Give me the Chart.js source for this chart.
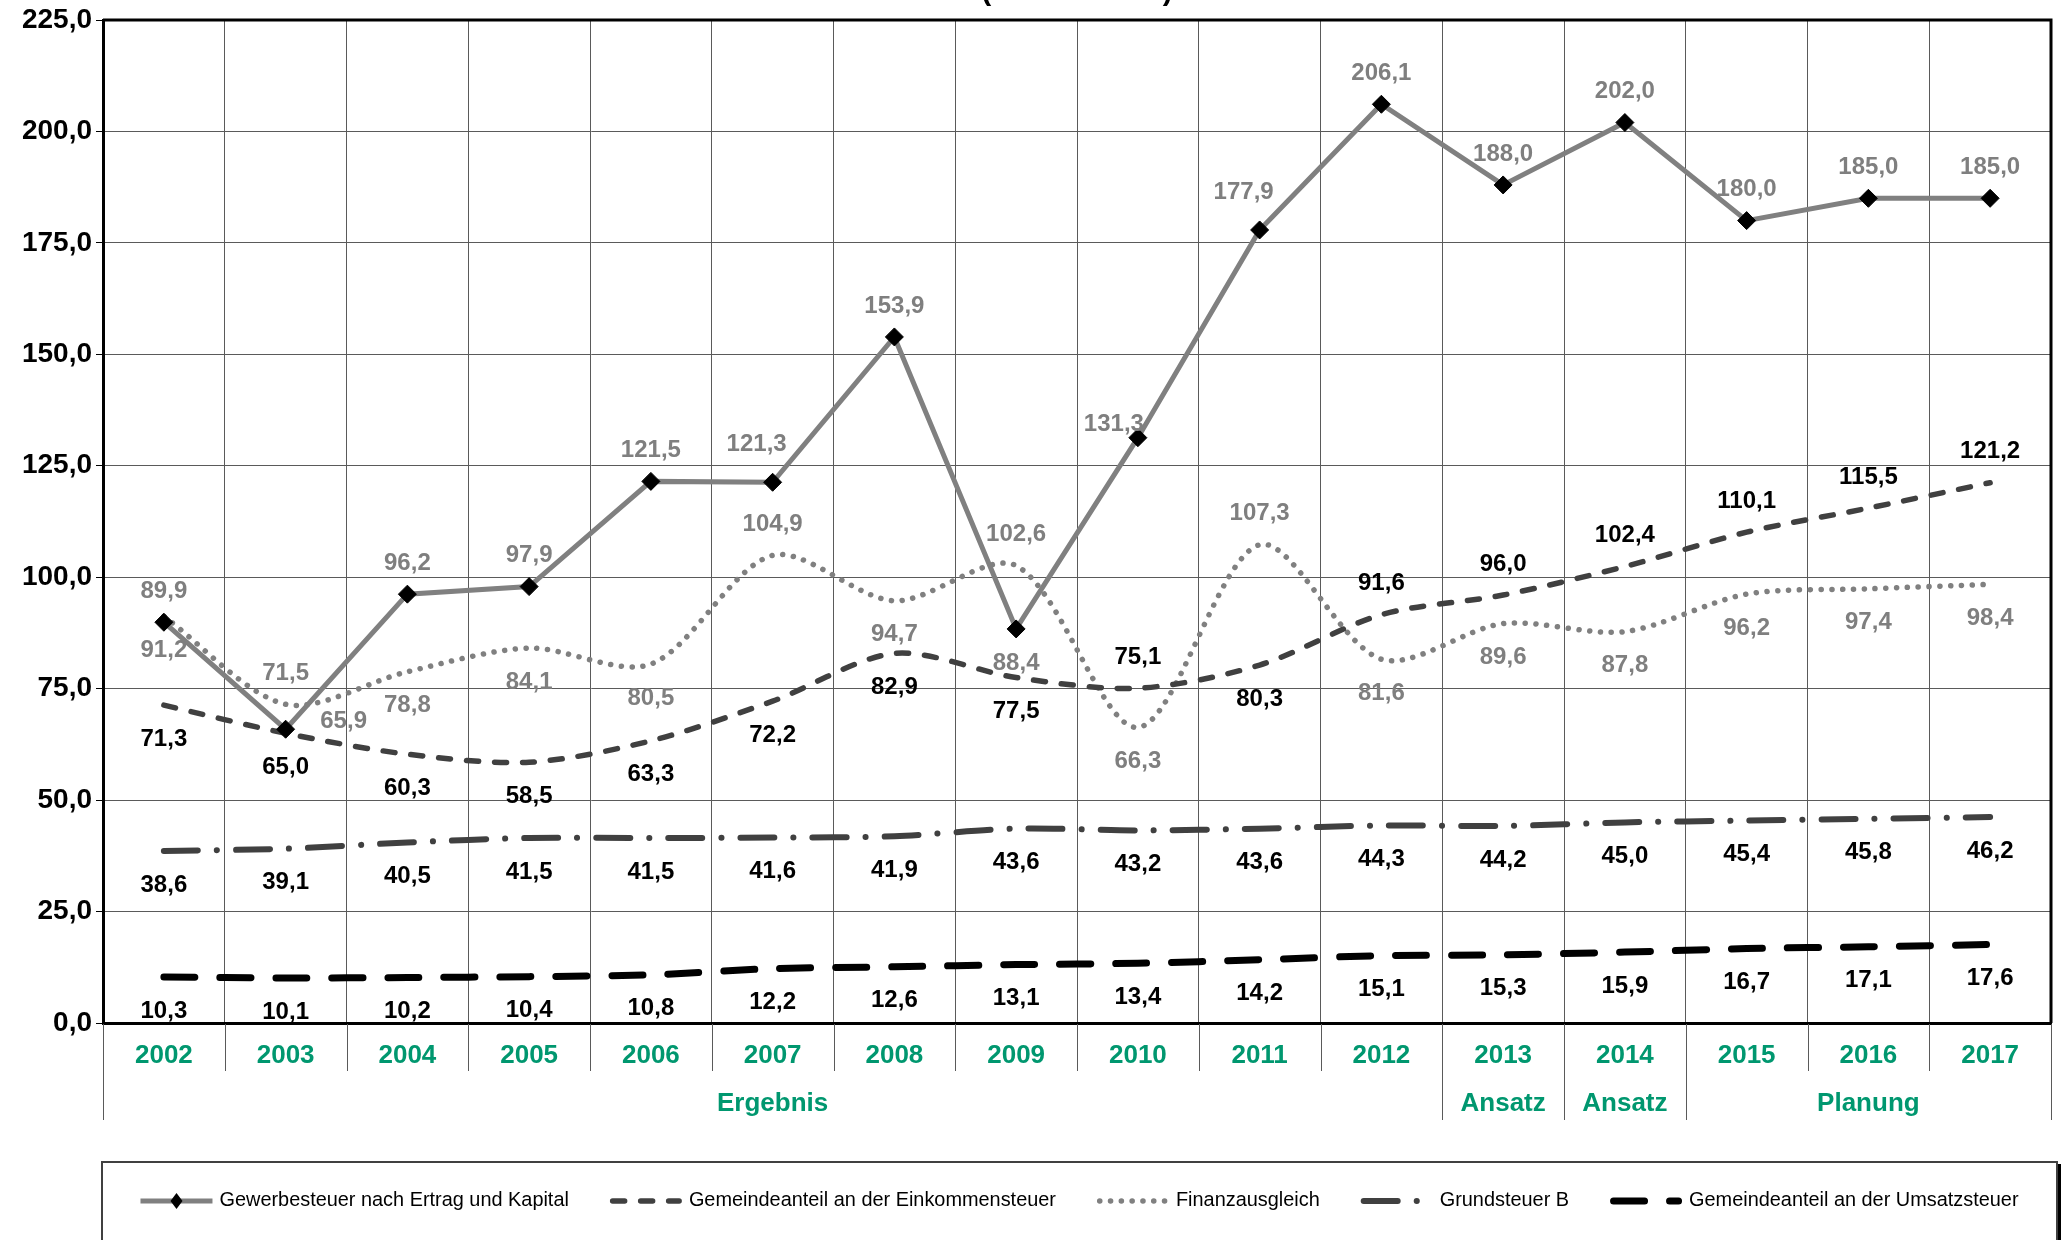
<!DOCTYPE html>
<html lang="de">
<head>
<meta charset="utf-8">
<title>Steuereinnahmen 2002 - 2017</title>
<script src="https://cdn.jsdelivr.net/npm/chart.js@4.4.1/dist/chart.umd.min.js"></script>
<style>
  html, body { margin: 0; padding: 0; background: #fff; }
  #chart { display: block; }
</style>
</head>
<body>
<canvas id="chart" width="2061" height="1240"></canvas>
<script>
// Kategorien (Jahre) und die zweite Ebene der Achse
const jahre = ['2002', '2003', '2004', '2005', '2006', '2007', '2008', '2009',
               '2010', '2011', '2012', '2013', '2014', '2015', '2016', '2017'];
const abschnitte = ['Ergebnis', 'Ansatz', 'Ansatz', 'Planung'];
const abschnittJahre = [11, 1, 1, 3];

// Werte in Mio. Euro
const gewerbesteuer   = [89.9, 65.9, 96.2, 97.9, 121.5, 121.3, 153.9, 88.4, 131.3, 177.9, 206.1, 188.0, 202.0, 180.0, 185.0, 185.0];
const einkommensteuer = [71.3, 65.0, 60.3, 58.5, 63.3, 72.2, 82.9, 77.5, 75.1, 80.3, 91.6, 96.0, 102.4, 110.1, 115.5, 121.2];
const finanzausgleich = [91.2, 71.5, 78.8, 84.1, 80.5, 104.9, 94.7, 102.6, 66.3, 107.3, 81.6, 89.6, 87.8, 96.2, 97.4, 98.4];
const grundsteuerB    = [38.6, 39.1, 40.5, 41.5, 41.5, 41.6, 41.9, 43.6, 43.2, 43.6, 44.3, 44.2, 45.0, 45.4, 45.8, 46.2];
const umsatzsteuer    = [10.3, 10.1, 10.2, 10.4, 10.8, 12.2, 12.6, 13.1, 13.4, 14.2, 15.1, 15.3, 15.9, 16.7, 17.1, 17.6];

// Y-Achse
const yMin = 0, yMax = 225, yStep = 25;

// Lage der Wertbeschriftung je Punkt:
// o = oberhalb, u = unterhalb, r = rechts, l = links, ol = oben links
const lageGewerbe   = ['o','r','o','o','o','ol','o','u','l','ol','o','o','o','o','o','o'];
const lageEinkommen = ['u','u','u','u','u','u','u','u','o','u','o','o','o','o','o','o'];
const lageFinanz    = ['u','o','u','u','u','o','u','o','u','o','u','u','u','u','u','u'];
const lageGrund     = jahre.map(() => 'u');
const lageUmsatz    = jahre.map(() => 'u');

// Versatz der Beschriftung zum Punkt in Pixeln
const versatz = {
  o:  [0, -31],
  u:  [0, 34],
  r:  [58, -8],
  l:  [-24, -13],
  ol: [-16, -38]
};

const FONT = '"Liberation Sans", Arial, sans-serif';
const GRUEN = '#00976f';
const fmt = v => Number(v).toFixed(1).replace('.', ',');

Chart.defaults.font.family = FONT;

// Wertbeschriftungen an den Punkten
const wertePlugin = {
  id: 'werte',
  afterDatasetsDraw(chart) {
    const ctx = chart.ctx;
    ctx.save();
    ctx.font = 'bold 24px ' + FONT;
    ctx.textBaseline = 'middle';
    ctx.textAlign = 'center';
    chart.data.datasets.forEach((ds, i) => {
      const meta = chart.getDatasetMeta(i);
      ctx.fillStyle = ds.labelColor;
      meta.data.forEach((pt, j) => {
        const [dx, dy] = versatz[ds.lage[j]];
        ctx.fillText(fmt(ds.data[j]), pt.x + dx, pt.y + dy);
      });
    });
    ctx.restore();
  }
};

// Rahmen, zweite Achsenebene, Überschrift und Legende
const rahmenPlugin = {
  id: 'rahmen',
  afterDraw(chart) {
    const ctx = chart.ctx;
    const area = chart.chartArea;
    const xs = chart.scales.x;
    ctx.save();

    // obere und rechte Kante der Zeichenfläche
    ctx.strokeStyle = '#000';
    ctx.lineWidth = 3;
    ctx.beginPath();
    ctx.moveTo(area.left, area.top);
    ctx.lineTo(area.right, area.top);
    ctx.lineTo(area.right, area.bottom);
    ctx.stroke();

    // Trennlinien unterhalb der Achse
    const w = xs.getPixelForValue(1) - xs.getPixelForValue(0);
    const x0 = xs.getPixelForValue(0) - w / 2;
    const grenzen = [0];
    abschnittJahre.reduce((s, n) => { grenzen.push(s + n); return s + n; }, 0);
    ctx.strokeStyle = '#5a5a5a';
    ctx.lineWidth = 1;
    for (let k = 0; k <= jahre.length; k++) {
      const x = Math.round(x0 + k * w) + 0.5;
      const tief = grenzen.includes(k) ? 97 : 48;
      ctx.beginPath();
      ctx.moveTo(x, area.bottom + 1);
      ctx.lineTo(x, area.bottom + tief);
      ctx.stroke();
    }

    // Abschnittsbeschriftung
    ctx.font = 'bold 26px ' + FONT;
    ctx.fillStyle = GRUEN;
    ctx.textAlign = 'center';
    ctx.textBaseline = 'middle';
    abschnitte.forEach((t, i) => {
      const mitte = x0 + (grenzen[i] + grenzen[i + 1]) / 2 * w;
      ctx.fillText(t, mitte, area.bottom + 81);
    });

    // Überschrift (am oberen Rand angeschnitten)
    ctx.font = 'bold 30px ' + FONT;
    ctx.fillStyle = '#000';
    ctx.textBaseline = 'alphabetic';
    ctx.fillText('(in Mio. Euro)', 1077, 0);

    // Legende
    const boxL = area.left - 1, boxR = 2057, boxT = 1162;
    ctx.fillStyle = '#000';
    ctx.fillRect(boxR, boxT + 2, 4, chart.height - boxT);
    ctx.fillStyle = '#fff';
    ctx.fillRect(boxL, boxT, boxR - boxL, chart.height - boxT);
    ctx.strokeStyle = '#404040';
    ctx.lineWidth = 2;
    ctx.strokeRect(boxL, boxT, boxR - boxL, chart.height - boxT + 10);

    ctx.font = '19.9px ' + FONT;
    const muster = 72, abstand = 7, luecke = 41;
    const items = chart.data.datasets.map(ds => ({ ds, w: muster + abstand + ctx.measureText(ds.label).width }));
    const gesamt = items.reduce((s, it) => s + it.w, 0) + luecke * (items.length - 1);
    let x = (boxL + boxR) / 2 - gesamt / 2;
    const y = 1201;
    items.forEach(({ ds, w: iw }) => {
      const lw = ds.borderWidth;
      const cap = ds.borderCapStyle === 'round' ? lw / 2 : 0;
      ctx.strokeStyle = ds.borderColor;
      ctx.lineWidth = lw;
      ctx.lineCap = ds.borderCapStyle || 'butt';
      ctx.setLineDash(ds.borderDash || []);
      ctx.beginPath();
      ctx.moveTo(x + cap, y);
      ctx.lineTo(x + muster - cap, y);
      ctx.stroke();
      ctx.setLineDash([]);
      if (ds.pointRadius > 0) {
        const cx = x + muster / 2, r = 8;
        ctx.fillStyle = ds.pointBackgroundColor;
        ctx.beginPath();
        ctx.moveTo(cx, y - r);
        ctx.lineTo(cx + r * 0.75, y);
        ctx.lineTo(cx, y + r);
        ctx.lineTo(cx - r * 0.75, y);
        ctx.closePath();
        ctx.fill();
      }
      ctx.fillStyle = '#000';
      ctx.textAlign = 'left';
      ctx.textBaseline = 'middle';
      ctx.fillText(ds.label, x + muster + abstand, y);
      x += iw + luecke;
    });

    ctx.restore();
  }
};

new Chart(document.getElementById('chart'), {
  type: 'line',
  data: {
    labels: jahre,
    datasets: [
      {
        label: 'Gewerbesteuer nach Ertrag und Kapital',
        data: gewerbesteuer,
        lage: lageGewerbe,
        labelColor: '#7f7f7f',
        borderColor: '#808080',
        borderWidth: 5,
        tension: 0,
        pointStyle: 'rectRot',
        pointRadius: 9,
        pointBackgroundColor: '#000',
        pointBorderColor: '#000',
        pointBorderWidth: 1
      },
      {
        label: 'Gemeindeanteil an der Einkommensteuer',
        data: einkommensteuer,
        lage: lageEinkommen,
        labelColor: '#000',
        borderColor: '#404040',
        borderWidth: 5.5,
        borderDash: [12, 16],
        borderCapStyle: 'round',
        tension: 0.3,
        pointRadius: 0
      },
      {
        label: 'Finanzausgleich',
        data: finanzausgleich,
        lage: lageFinanz,
        labelColor: '#7f7f7f',
        borderColor: '#808080',
        borderWidth: 5.5,
        borderDash: [0.1, 10.7],
        borderCapStyle: 'round',
        tension: 0.3,
        pointRadius: 0
      },
      {
        label: 'Grundsteuer B',
        data: grundsteuerB,
        lage: lageGrund,
        labelColor: '#000',
        borderColor: '#404040',
        borderWidth: 6,
        borderDash: [34, 19, 0.1, 19],
        borderCapStyle: 'round',
        tension: 0.3,
        pointRadius: 0
      },
      {
        label: 'Gemeindeanteil an der Umsatzsteuer',
        data: umsatzsteuer,
        lage: lageUmsatz,
        labelColor: '#000',
        borderColor: '#000',
        borderWidth: 7,
        borderDash: [31, 25],
        borderCapStyle: 'round',
        tension: 0.3,
        pointRadius: 0
      }
    ]
  },
  options: {
    responsive: false,
    animation: false,
    devicePixelRatio: 1,
    layout: { padding: { top: 20, right: 3, left: 0, bottom: 0 } },
    plugins: {
      legend: { display: false },
      tooltip: { enabled: false }
    },
    scales: {
      x: {
        offset: true,
        grid: { offset: true, color: '#5a5a5a', lineWidth: 1, drawTicks: false },
        border: { color: '#000', width: 3 },
        ticks: {
          color: GRUEN,
          font: { size: 26, weight: 'bold' },
          padding: 17,
          maxRotation: 0,
          autoSkip: false
        },
        afterFit: s => { s.height = 217; }
      },
      y: {
        min: yMin,
        max: yMax,
        grid: { color: '#5a5a5a', lineWidth: 1, tickLength: 7, tickColor: '#000' },
        border: { color: '#000', width: 3 },
        ticks: {
          stepSize: yStep,
          color: '#000',
          padding: 4,
          font: { size: 28, weight: 'bold', lineHeight: 1.0 },
          callback: v => fmt(v)
        },
        afterFit: s => { s.width = 103; }
      }
    }
  },
  plugins: [wertePlugin, rahmenPlugin]
});
</script>
</body>
</html>
